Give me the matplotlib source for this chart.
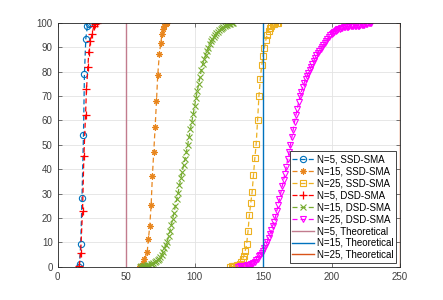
import matplotlib
matplotlib.use("Agg")
import matplotlib.pyplot as plt

plt.rcParams["font.family"] = ["Liberation Sans", "DejaVu Sans"]

# N=5, SSD-SMA
ssd5_x = [15.6, 16.0, 16.9, 17.8, 18.9, 19.6, 20.6, 21.8, 22.6, 23.6]
ssd5_y = [0.0, 1.0, 9.3, 28.0, 54.0, 79.0, 93.5, 98.8, 99.7, 100.0]

# N=15, SSD-SMA
ssd15_x = [60.0, 62.0, 63.4, 65.4, 66.3, 67.3, 68.3, 69.2, 70.2, 71.2,
           72.2, 73.1, 74.3, 75.3, 76.3, 77.0, 78.0, 79.0, 79.9]
ssd15_y = [0.3, 1.4, 3.0, 5.9, 11.4, 16.8, 25.4, 37.2, 47.0, 57.1,
           68.0, 78.4, 87.2, 91.6, 95.6, 97.4, 98.8, 99.7, 100.0]

# N=25, SSD-SMA
ssd25_x = list(range(126, 162))
ssd25_y = [0.0, 0.1, 0.1, 0.2, 0.3, 0.5, 0.8, 1.3, 2.0, 3.0,
           4.4, 6.5, 9.2, 14.5, 21.0, 26.0, 30.5, 37.5, 44.5, 50.5,
           60.0, 70.0, 77.0, 82.5, 86.5, 89.8, 92.8, 95.2, 96.8, 98.0,
           98.8, 99.4, 99.7, 99.9, 100.0, 100.0]

# N=5, DSD-SMA
dsd5_x = [15.8, 16.8, 18.2, 19.2, 20.4, 21.1, 22.1, 22.8, 24.0, 25.2, 26.4, 27.6, 28.8]
dsd5_y = [0.4, 5.7, 22.7, 45.3, 62.3, 72.7, 82.0, 88.0, 92.5, 95.5, 98.5, 99.5, 100.0]

# N=15, DSD-SMA
dsd15_x = list(range(60, 129))
dsd15_y = [0.0, 0.1, 0.2, 0.3, 0.4, 0.5, 0.6, 0.8, 1.0, 1.2,
           1.5, 1.8, 2.2, 2.7, 3.3, 4.0, 5.0, 6.2, 7.5, 8.8,
           10.2, 12.4, 14.6, 17.0, 19.5, 22.2, 24.9, 27.6, 30.4, 33.4,
           36.4, 39.0, 41.6, 44.2, 47.0, 50.0, 53.2, 56.4, 59.4, 62.6,
           65.8, 69.0, 72.0, 74.8, 77.8, 80.8, 83.0, 85.0, 86.8, 88.4,
           89.8, 91.2, 92.4, 93.4, 94.3, 95.0, 95.7, 96.3, 96.9, 97.4,
           97.8, 98.2, 98.6, 98.9, 99.2, 99.4, 99.6, 99.8, 100.0]

# N=25, DSD-SMA
dsd25_x = list(range(132, 230))
dsd25_y = [0.0, 0.1, 0.1, 0.2, 0.3, 0.4, 0.5, 0.6, 0.8, 1.0,
           1.3, 1.6, 2.0, 2.6, 3.3, 4.2, 5.0, 5.8, 6.6, 7.6,
           8.8, 10.2, 11.8, 13.4, 15.0, 16.7, 18.5, 20.3, 22.8, 25.3,
           27.8, 30.4, 33.0, 35.6, 38.2, 41.0, 44.0, 47.0, 50.0, 53.0,
           56.2, 59.4, 62.2, 64.8, 67.4, 69.8, 71.8, 73.6, 75.2, 76.8,
           78.2, 79.5, 80.8, 82.0, 83.2, 84.4, 85.5, 86.6, 87.6, 88.5,
           89.3, 90.0, 90.8, 91.6, 92.4, 93.2, 94.0, 94.8, 95.4, 95.9,
           96.4, 96.8, 97.1, 97.4, 97.6, 97.8, 98.0, 98.1, 98.2, 98.3,
           98.4, 98.5, 98.5, 98.6, 98.6, 98.7, 98.7, 98.8, 98.8, 98.9,
           99.0, 99.1, 99.3, 99.5, 99.7, 99.8, 99.9, 100.0]

# theoretical values
theory_x = [50, 150, 250]
theory_labels = ["N=5, Theoretical", "N=15, Theoretical", "N=25, Theoretical"]
theory_colors = ["#C27C8E", "#0072BD", "#D95319"]

fig = plt.figure(figsize=(4.43, 3.0), dpi=100)
ax = fig.add_axes([0.13, 0.111, 0.773, 0.813])

dash = (0, (4, 2.5))
common = dict(linestyle=dash, linewidth=0.9, markersize=4.5, markeredgewidth=0.8)

ax.plot(ssd5_x, ssd5_y, color="#0072BD", marker="o", fillstyle="none",
        label="N=5, SSD-SMA", **common)
ax.plot(ssd15_x, ssd15_y, color="#E8861E", marker=(8, 2, 0),
        label="N=15, SSD-SMA", **common)
ax.plot(ssd25_x, ssd25_y, color="#EDB120", marker="s", fillstyle="none",
        label="N=25, SSD-SMA", **common)
ax.plot(dsd5_x, dsd5_y, color="#FF0000", marker="+",
        label="N=5, DSD-SMA", linestyle=dash, linewidth=0.9, markersize=6,
        markeredgewidth=0.9)
ax.plot(dsd15_x, dsd15_y, color="#77AC30", marker="x",
        label="N=15, DSD-SMA", **common)
ax.plot(dsd25_x, dsd25_y, color="#FF00FF", marker="v", fillstyle="none",
        label="N=25, DSD-SMA", **common)

for xv, lab, col in zip(theory_x, theory_labels, theory_colors):
    ax.axvline(xv, color=col, linewidth=1.0, label=lab)

ax.set_xlim(0, 250)
ax.set_ylim(0, 100)
ax.set_xticks(range(0, 251, 50))
ax.set_yticks(range(0, 101, 10))
ax.grid(True, color="#E3E3E3", linewidth=0.6)
ax.set_axisbelow(True)
ax.tick_params(direction="in", length=3, width=0.5, labelsize=7,
               colors="#404040", top=True, right=True, pad=3.5)
for sp in ax.spines.values():
    sp.set_color("#262626")
    sp.set_linewidth(0.6)

leg = ax.legend(loc="lower right", fontsize=7, handlelength=2.2,
                numpoints=1, fancybox=False, framealpha=1,
                edgecolor="#262626", borderpad=0.3, labelspacing=0.2,
                handletextpad=0.3, borderaxespad=0.4)
leg.get_frame().set_linewidth(0.6)

fig.savefig("out.png", dpi=100)
